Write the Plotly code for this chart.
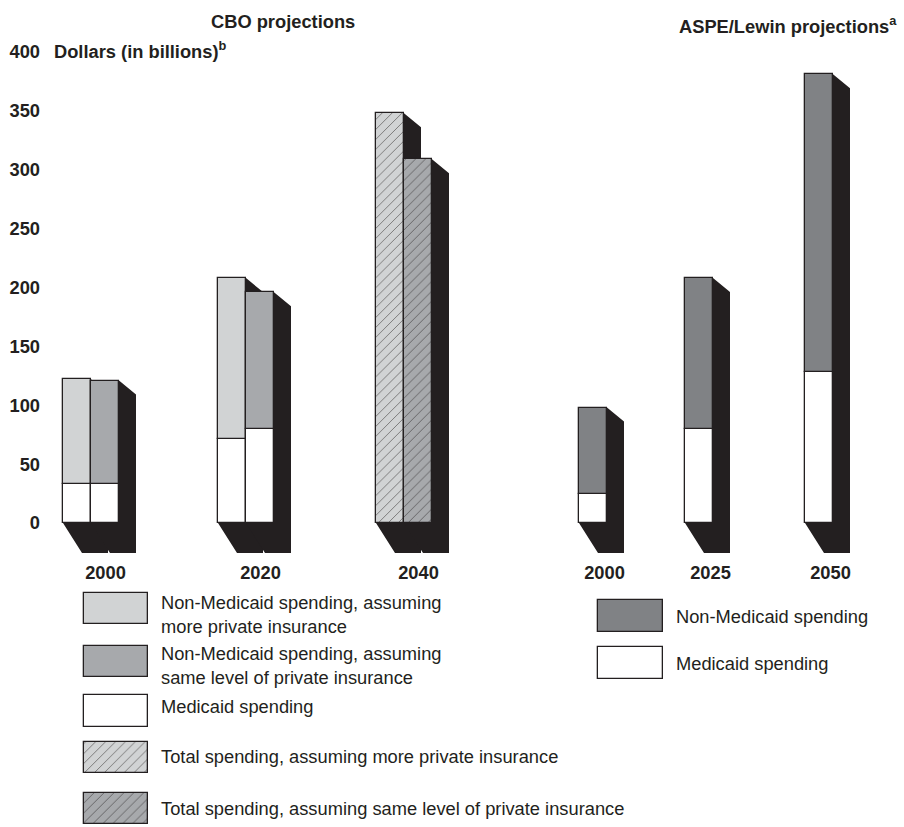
import plotly.graph_objects as go

# ---- data (billions of dollars) ----
cbo_years = ["2000", "2020", "2040"]
cbo_total_more = [122, 208, 348]      # assuming more private insurance
cbo_total_same = [121, 196, 309]      # assuming same level of private insurance
cbo_medicaid_more = [33, 71]          # split shown for 2000 and 2020 only
cbo_medicaid_same = [33, 80]

aspe_years = ["2000", "2025", "2050"]
aspe_total = [98, 208, 381]
aspe_medicaid = [25, 80, 128]

y_ticks = [0, 50, 100, 150, 200, 250, 300, 350, 400]

# ---- styling ----
INK = "#231f20"
LIGHT = "#d1d3d4"
MEDIUM = "#a7a9ac"
DARK = "#808285"
FONT = "Liberation Sans, Arial, Helvetica, sans-serif"

W, H = 904, 827
PX_PER_UNIT = 471 / 400          # vertical scale of the value axis
ZERO_PX = 523                    # screen row of the zero line
TOP_PX, BOTTOM_PX = 30, 560      # vertical extent of the bar panel

BAR_W = 28
SHADOW_DX = 17                   # extrusion to the right (px)
SHADOW_DX_BOTTOM = 19
SHADOW_TOP_DROP = 14             # drop of the top edge of the extrusion (px)
SHADOW_BOTTOM_DROP = 30          # depth of the floor shadow (px)

# left edges of each group (screen x == data x on this axis)
cbo_left = [63, 218, 376]
aspe_left = [579, 685, 805]
label_shift = 6


def u(px):
    """pixel distance -> value units on the y axis"""
    return px / PX_PER_UNIT


fig = go.Figure()
shapes = []


def shadow(x0, top):
    x1 = x0 + BAR_W
    path = (
        f"M {x0},0 L {x0 + SHADOW_DX_BOTTOM},{-u(SHADOW_BOTTOM_DROP)} "
        f"L {x1 + SHADOW_DX},{-u(SHADOW_BOTTOM_DROP)} "
        f"L {x1 + SHADOW_DX},{top - u(SHADOW_TOP_DROP)} "
        f"L {x1},{top} L {x1},0 Z"
    )
    shapes.append(dict(type="path", path=path, xref="x", yref="y",
                       fillcolor=INK, line=dict(width=0), layer="below"))


line_style = dict(color=INK, width=1.3)

# CBO: left bar = more private insurance, right bar = same level
more_x = [x + BAR_W / 2 for x in cbo_left]
same_x = [x + BAR_W + BAR_W / 2 for x in cbo_left]

for i, x0 in enumerate(cbo_left):
    shadow(x0, cbo_total_more[i])
    shadow(x0 + BAR_W, cbo_total_same[i])

n_split = len(cbo_medicaid_more)
fig.add_trace(go.Bar(
    x=more_x[:n_split], y=cbo_medicaid_more, base=0, width=BAR_W,
    marker=dict(color="white", line=line_style), showlegend=False))
fig.add_trace(go.Bar(
    x=more_x[:n_split],
    y=[t - m for t, m in zip(cbo_total_more, cbo_medicaid_more)],
    base=cbo_medicaid_more, width=BAR_W,
    marker=dict(color=LIGHT, line=line_style), showlegend=False))
fig.add_trace(go.Bar(
    x=same_x[:n_split], y=cbo_medicaid_same, base=0, width=BAR_W,
    marker=dict(color="white", line=line_style), showlegend=False))
fig.add_trace(go.Bar(
    x=same_x[:n_split],
    y=[t - m for t, m in zip(cbo_total_same, cbo_medicaid_same)],
    base=cbo_medicaid_same, width=BAR_W,
    marker=dict(color=MEDIUM, line=line_style), showlegend=False))

hatch = dict(shape="/", fgcolor=INK, size=7, solidity=0.14)
fig.add_trace(go.Bar(
    x=more_x[n_split:], y=cbo_total_more[n_split:], base=0, width=BAR_W,
    marker=dict(color=LIGHT, line=line_style, pattern=hatch), showlegend=False))
fig.add_trace(go.Bar(
    x=same_x[n_split:], y=cbo_total_same[n_split:], base=0, width=BAR_W,
    marker=dict(color=MEDIUM, line=line_style, pattern=hatch), showlegend=False))

# ASPE/Lewin
aspe_x = [x + BAR_W / 2 for x in aspe_left]
for i, x0 in enumerate(aspe_left):
    shadow(x0, aspe_total[i])
fig.add_trace(go.Bar(
    x=aspe_x, y=aspe_medicaid, base=0, width=BAR_W,
    marker=dict(color="white", line=line_style), showlegend=False))
fig.add_trace(go.Bar(
    x=aspe_x, y=[t - m for t, m in zip(aspe_total, aspe_medicaid)],
    base=aspe_medicaid, width=BAR_W,
    marker=dict(color=DARK, line=line_style), showlegend=False))

# year labels sit under the middle of each group incl. its shadow
tick_pos = [x + BAR_W + SHADOW_DX / 2 + label_shift for x in cbo_left] + \
           [x + (BAR_W + SHADOW_DX) / 2 + label_shift / 2 for x in aspe_left]
tick_text = cbo_years + aspe_years

# ---- legend swatches (drawn on a pixel-space panel at the bottom) ----
LEG_TOP = 580
legend_items = [
    # x-center, width, top, height, color, hatched
    (116, 64, 593, 31, LIGHT, False),
    (116, 64, 646, 31, MEDIUM, False),
    (116, 64, 695, 32, "white", False),
    (116, 64, 742, 31, LIGHT, True),
    (116, 64, 793, 31, MEDIUM, True),
    (630.5, 65, 600, 32, DARK, False),
    (630.5, 65, 647, 32, "white", False),
]
for xc, w, top, h, col, hatched in legend_items:
    mk = dict(color=col, line=line_style)
    if hatched:
        mk["pattern"] = hatch
    fig.add_trace(go.Bar(x=[xc], y=[h], base=[top], width=w, marker=mk,
                         xaxis="x2", yaxis="y2", showlegend=False))

legend_texts = [
    (159, 614, "Non-Medicaid spending, assuming<br>more private insurance"),
    (159, 665, "Non-Medicaid spending, assuming<br>same level of private insurance"),
    (159, 706, "Medicaid spending"),
    (159, 756, "Total spending, assuming more private insurance"),
    (159, 808, "Total spending, assuming same level of private insurance"),
    (674, 616, "Non-Medicaid spending"),
    (674, 663, "Medicaid spending"),
]
annotations = []
for x, y, t in legend_texts:
    annotations.append(dict(
        x=x, y=y, xref="x2", yref="y2", text=t, showarrow=False,
        xanchor="left", yanchor="middle", align="left",
        font=dict(family=FONT, size=18.3, color=INK)))

# headings
heads = [
    (283, 21, "center", "<b>CBO projections</b>"),
    (52, 50, "left", "<b>Dollars (in billions)<sup>b</sup></b>"),
    (899, 25, "right", "<b>ASPE/Lewin projections<sup>a</sup></b>"),
]
for x, y, xa, t in heads:
    annotations.append(dict(
        x=x / W, y=1 - y / H, xref="paper", yref="paper", text=t,
        showarrow=False, xanchor=xa, yanchor="middle",
        font=dict(family=FONT, size=18.3, color=INK)))

y_lo = u(ZERO_PX - BOTTOM_PX)
y_hi = u(ZERO_PX - TOP_PX)

fig.update_layout(
    width=W, height=H,
    margin=dict(l=0, r=0, t=0, b=0),
    paper_bgcolor="white", plot_bgcolor="rgba(0,0,0,0)",
    barmode="overlay", bargap=0,
    showlegend=False,
    shapes=shapes,
    annotations=annotations,
    font=dict(family=FONT, color=INK),
    xaxis=dict(domain=[0, 1], range=[0, W], showgrid=False, zeroline=False,
               showline=False, ticks="", tickmode="array",
               tickvals=tick_pos, ticktext=tick_text,
               tickfont=dict(family=FONT, size=18.3, color=INK, weight="bold"),
               fixedrange=True),
    yaxis=dict(domain=[1 - BOTTOM_PX / H, 1 - TOP_PX / H], range=[y_lo, y_hi],
               anchor="free", position=40 / W,
               showgrid=False, zeroline=False, showline=False, ticks="",
               tickmode="array", tickvals=y_ticks,
               tickfont=dict(family=FONT, size=18.3, color=INK, weight="bold"),
               fixedrange=True),
    xaxis2=dict(domain=[0, 1], range=[0, W], anchor="y2", visible=False,
                fixedrange=True),
    yaxis2=dict(domain=[0, 1 - LEG_TOP / H], range=[H, LEG_TOP], anchor="x2",
                visible=False, fixedrange=True),
)

fig.write_html("out.html")
